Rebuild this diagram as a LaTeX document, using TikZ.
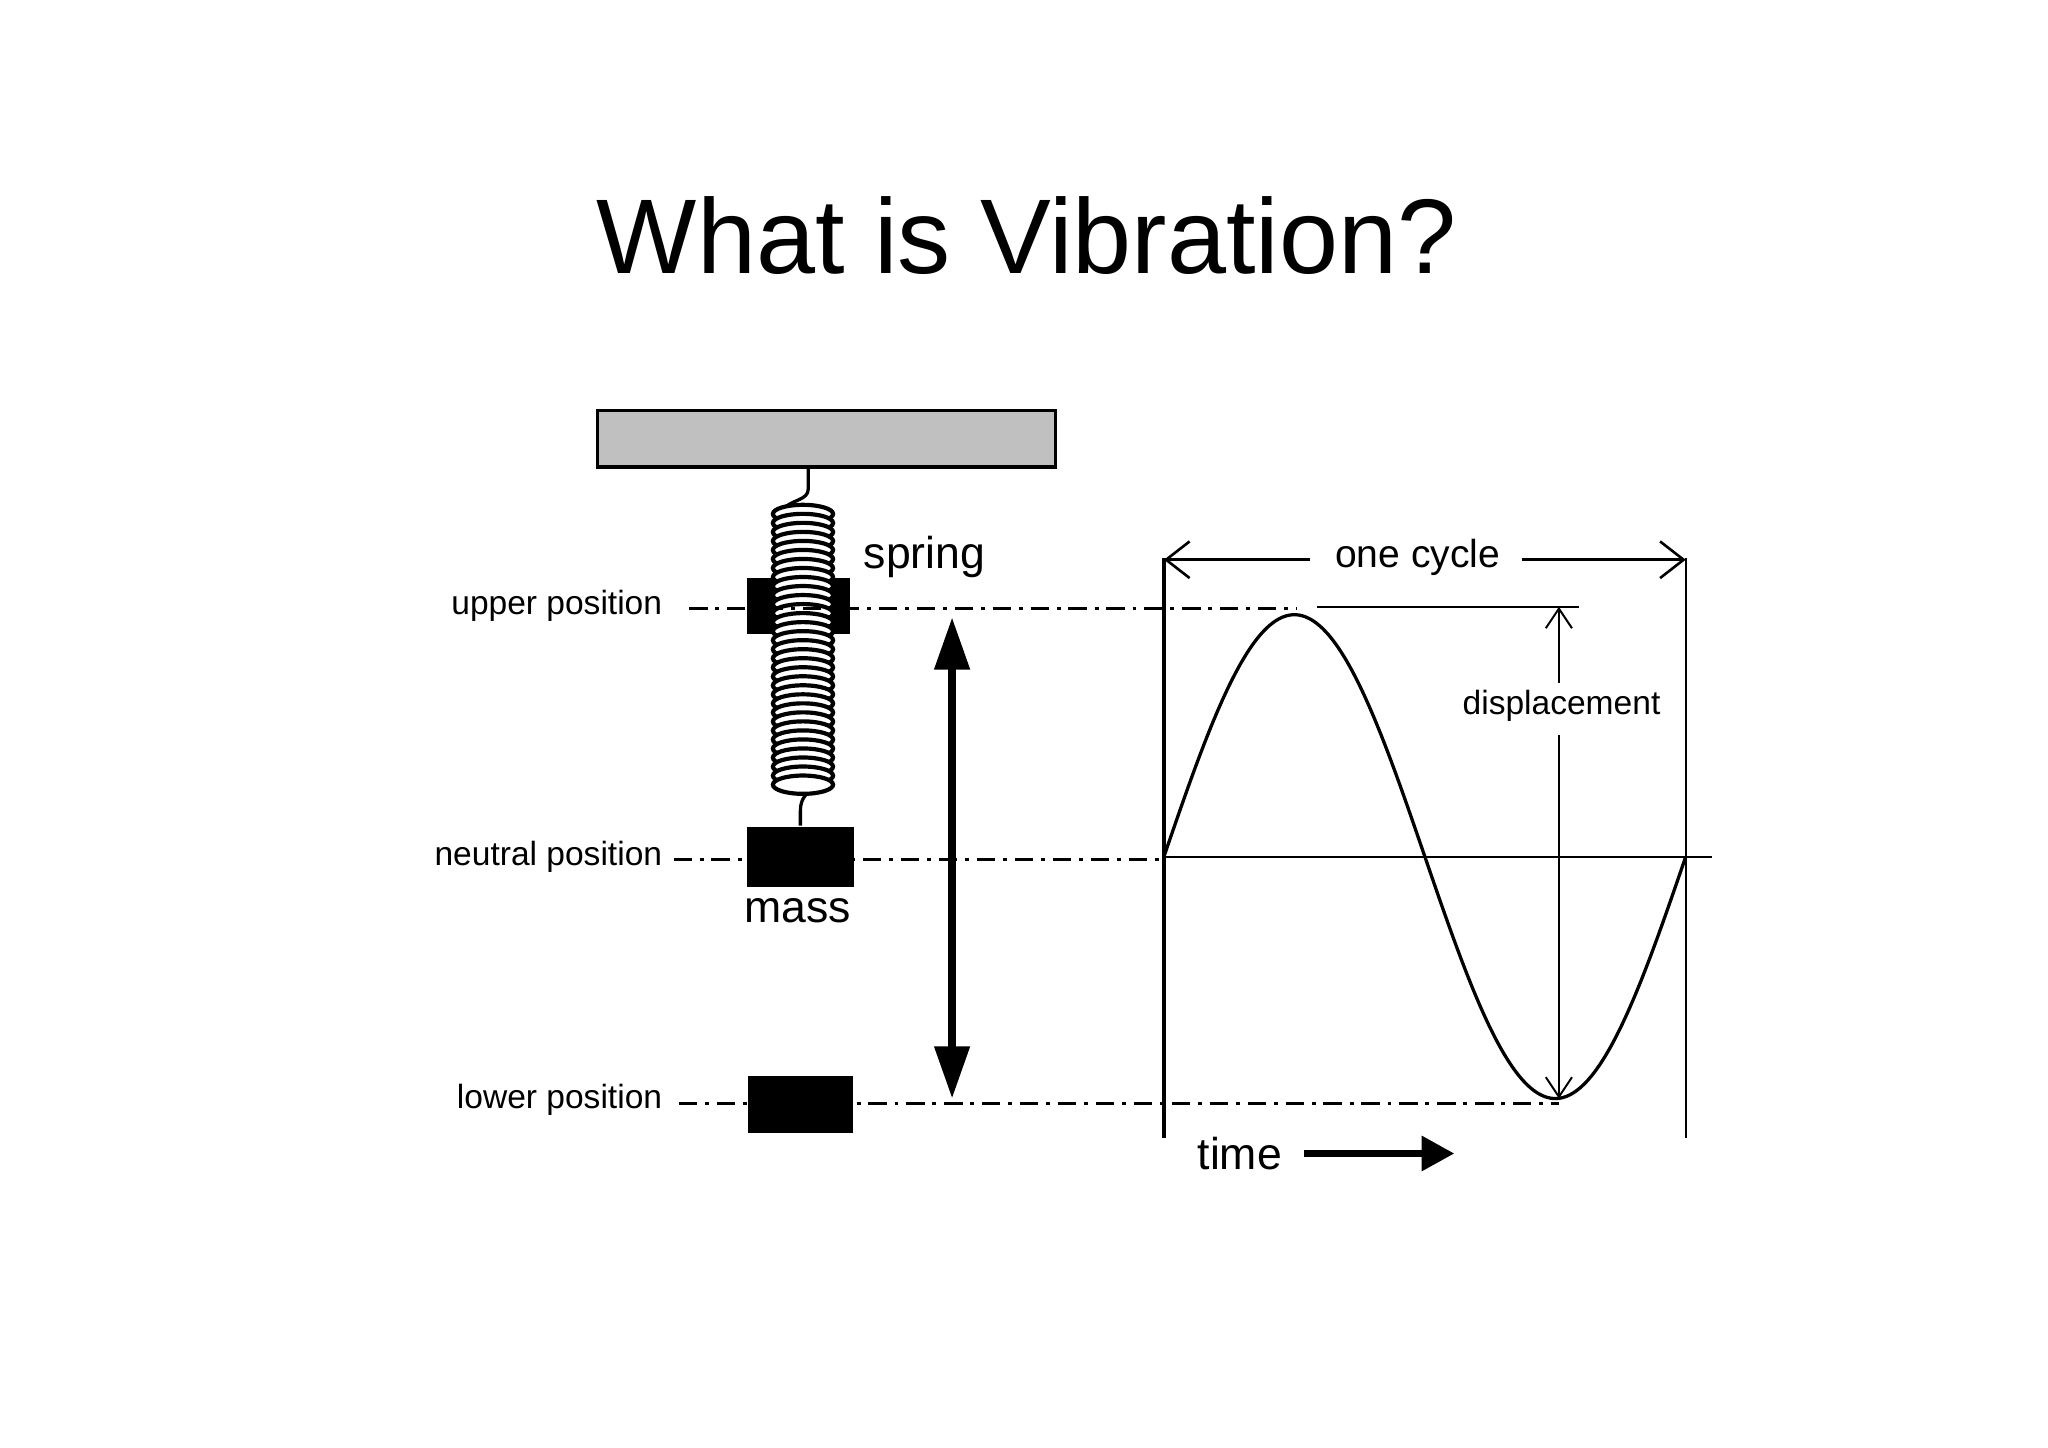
\documentclass[tikz,border=0pt]{standalone}
\usepackage{fontspec}
\setmainfont{Liberation Sans}
\usetikzlibrary{arrows.meta}
\begin{document}
\begin{tikzpicture}[x=0.1mm,y=-0.1mm,
  dd/.style={line width=0.22mm,dash pattern=on 1.4mm off 0.6mm on 0.3mm off 0.6mm},
  lbl/.style={inner sep=0pt,font=\fontsize{7.3pt}{8pt}\selectfont},
  big/.style={inner sep=0pt,font=\fontsize{9.7pt}{11pt}\selectfont},
  massbox/.style={fill=black,draw=none}]
\useasboundingbox (-2,-2) rectangle (1564,1105);
\node[inner sep=0pt,font=\fontsize{23.1pt}{26pt}\selectfont] (title) at (783,178) {What is Vibration?};
% support
\draw[line width=0.25mm,fill={rgb,255:red,192;green,192;blue,192}] (455,312) rectangle (805,355);
\coordinate (barb) at (616,355);
% masses
\fill (569,440) rectangle (648,483);
\node[massbox,minimum width=8.2mm,minimum height=4.6mm,inner sep=0pt] (mass) at (610,653) {};
\fill (570,821) rectangle (650,864);
% spring wires
\draw[line width=0.25mm] (barb) -- (616,372) .. controls (616,380) and (605,380) .. (598,386);
\draw[line width=0.25mm] (mass.north) -- (610,618) .. controls (610,608) and (615,605) .. (620,600);
% coils
\foreach \i in {0,...,30}{
  \draw[line width=0.32mm,fill=white] (612,{391+\i*6.9}) ellipse (23 and 7);
}
% dash-dot lines
\draw[dd] (525,463) -- (990,463);
\draw[dd] (513,655) -- (888,655);
\draw[dd] (517,842) -- (1190,842);
% labels
\node[lbl,anchor=east] (up) at (505,461) {upper position};
\node[lbl,anchor=east] (np) at (505,653) {neutral position};
\node[lbl,anchor=east] (lp) at (505,839) {lower position};
\node[big] (spr) at (705,424) {spring};
\node[big] (ml) at (608,694) {mass};
% big double arrow
\coordinate (aT) at (726,470);
\coordinate (aB) at (726,838);
\draw[line width=0.6mm,{Triangle[length=4mm,width=2.6mm]}-{Triangle[length=4mm,width=2.6mm]}] (aT) -- (aB);
% graph
\coordinate (ax0) at (888,425);
\coordinate (ax1) at (888,868);
\draw[line width=0.35mm] (ax0) -- (ax1);
\draw[line width=0.15mm] (1287,425) -- (1287,868);
\draw[line width=0.15mm] (888,653) -- (1307,653);
\draw[line width=0.25mm,domain=0:360,samples=90,smooth] plot ({888+\x/360*399},{653-185*sin(\x)});
\draw[line width=0.15mm] (1005,462) -- (1205,462);
\node[lbl] (disp) at (1192,538) {displacement};
\draw[line width=0.15mm,-{Straight Barb[length=1.5mm,width=2mm]}] (1190,520) -- (1190,462);
\draw[line width=0.15mm,-{Straight Barb[length=1.5mm,width=2mm]}] (1190,560) -- (1190,838);
\node[inner sep=0pt,font=\fontsize{8.5pt}{10pt}\selectfont] (oc) at (1082,424) {one cycle};
\draw[line width=0.2mm,-{Straight Barb[length=1.8mm,width=2.8mm]}] (1000,426) -- (888,426);
\draw[line width=0.2mm,-{Straight Barb[length=1.8mm,width=2.8mm]}] (1162,426) -- (1287,426);
\node[big] (tm) at (946,880) {time};
\draw[line width=0.5mm,-{Triangle[length=2.5mm,width=2.6mm]}] (995,880) -- (1110,880);
\end{tikzpicture}
\end{document}
